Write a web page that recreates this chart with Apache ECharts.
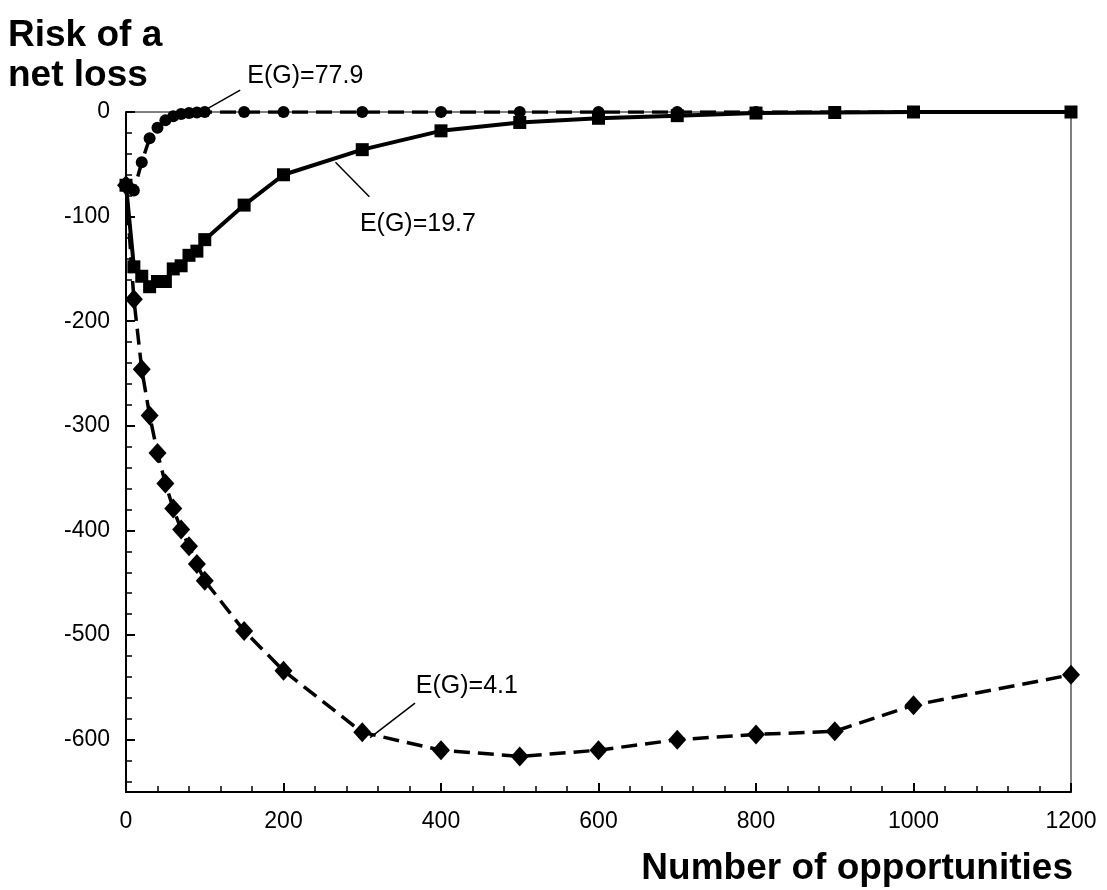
<!DOCTYPE html>
<html><head><meta charset="utf-8">
<script src="https://cdn.jsdelivr.net/npm/echarts@6/dist/echarts.min.js"></script>
<style>html,body{margin:0;padding:0;background:#fff}#c{width:1107px;height:890px}</style>
</head><body><div id="c"></div>
<script>
const opportunities = [0,10,20,30,40,50,60,70,80,90,100,150,200,300,400,500,600,700,800,900,1000,1200];
const risk779 = [-70,-75,-48,-25,-15,-8,-4,-2,-1,-0.5,0,0,0,0,0,0,0,0,0,0,0,0];
const risk197 = [-70,-148,-157,-167,-162,-162,-150,-147,-137,-133,-122,-89,-60,-36,-18,-10,-6,-3.5,-1,-0.5,0,0];
const risk41  = [-70,-179,-246,-290,-326,-355,-379,-399,-415,-432,-448,-496,-534,-593,-610,-616,-610,-600,-595,-592,-567,-538];
const yMajor = [0,-100,-200,-300,-400,-500,-600];
const yMinor = [];
for (let v = -640; v < 0; v += 20) if (v % 100 !== 0) yMinor.push(v);
const labels = [
  {text:'E(G)=77.9', from:[103,3], to:[145,21], at:[154,34]},
  {text:'E(G)=19.7', from:[266,-48], to:[309,-81], at:[297,-107]},
  {text:'E(G)=4.1', from:[310,-598], to:[367,-565], at:[368,-549]}
];
const FONT = '"Liberation Sans", Arial, sans-serif';
const pair = ys => opportunities.map((x,i)=>[x,ys[i]]);

const chart = echarts.init(document.getElementById('c'), null, {renderer:'canvas'});
const option = {
  animation:false,
  backgroundColor:'#fff',
  textStyle:{fontFamily:FONT},
  title:[
    {text:'Risk of a\nnet loss', left:3, top:11, textStyle:{fontFamily:FONT, fontSize:37, fontWeight:'bold', color:'#000', lineHeight:40}},
    {text:'Number of opportunities', right:29, top:845, textStyle:{fontFamily:FONT, fontSize:37, fontWeight:'bold', color:'#000'}}
  ],
  grid:{left:126, right:36, top:112, bottom:98, show:true, borderColor:'#000', borderWidth:1, backgroundColor:'transparent'},
  xAxis:{type:'value', min:0, max:1200, interval:200,
    axisLine:{show:true, onZero:false, lineStyle:{color:'#000', width:2}},
    axisTick:{show:true, inside:true, length:9, lineStyle:{color:'#000', width:2}},
    minorTick:{show:true, splitNumber:5, length:6, lineStyle:{color:'#000', width:1.5}},
    splitLine:{show:false},
    axisLabel:{fontFamily:FONT, fontSize:23, color:'#000', margin:18, formatter: v => String(v)}
  },
  yAxis:[
    {type:'value', min:-650, max:0, interval:50,
      axisLine:{show:true, onZero:false, lineStyle:{color:'#000', width:2}},
      axisTick:{show:true, inside:true, length:9, customValues:yMajor, lineStyle:{color:'#000', width:2}},
      splitLine:{show:false},
      axisLabel:{fontFamily:FONT, fontSize:23, color:'#000', margin:16, customValues:yMajor, formatter: v => String(v)}
    },
    {type:'value', min:-650, max:0, interval:10, position:'left',
      axisLine:{show:false},
      axisTick:{show:true, inside:true, length:6, customValues:yMinor, lineStyle:{color:'#000', width:1.5}},
      splitLine:{show:false},
      axisLabel:{show:false}
    }
  ],
  series:[
    {name:'E(G)=4.1', type:'line', data:pair(risk41), symbol:'diamond', symbolSize:[18,20],
      itemStyle:{color:'#000'}, lineStyle:{color:'#000', width:3.5, type:[16,8]}, z:2},
    {name:'E(G)=19.7', type:'line', data:pair(risk197), symbol:'rect', symbolSize:13,
      itemStyle:{color:'#000'}, lineStyle:{color:'#000', width:4}, z:3},
    {name:'E(G)=77.9', type:'line', data:pair(risk779), symbol:'circle', symbolSize:12,
      itemStyle:{color:'#000'}, lineStyle:{color:'#000', width:3.5, type:[16,8]}, z:4}
  ]
};
chart.setOption(option);
const g = [];
labels.forEach(l => {
  const a = chart.convertToPixel({gridIndex:0}, l.from);
  const b = chart.convertToPixel({gridIndex:0}, l.to);
  const t = chart.convertToPixel({gridIndex:0}, l.at);
  g.push({type:'line', shape:{x1:a[0],y1:a[1],x2:b[0],y2:b[1]}, style:{stroke:'#000', lineWidth:1.5}, z:10});
  g.push({type:'text', x:t[0], y:t[1], style:{text:l.text, fill:'#000', font:'25px '+FONT, textVerticalAlign:'middle', textAlign:'left'}, z:10});
});
chart.setOption({graphic:g});
</script></body></html>
